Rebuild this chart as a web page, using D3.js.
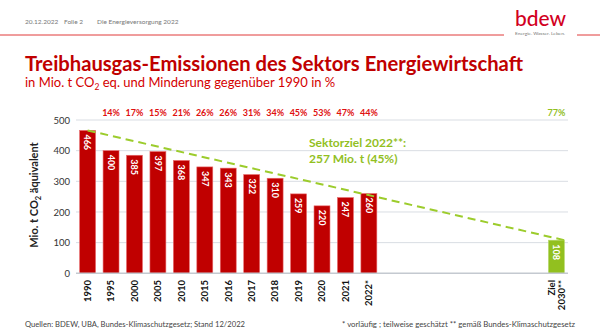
<!DOCTYPE html>
<html>
<head>
<meta charset="utf-8">
<script src="https://cdn.jsdelivr.net/npm/d3@7"></script>
<style>
  html, body { margin: 0; padding: 0; background: #fff; }
  svg { display: block; font-family: Lato, "Open Sans", sans-serif; }
</style>
</head>
<body>
<svg id="chart" width="600" height="336"></svg>
<script>
// Emissionen Energiewirtschaft, Mio. t CO2-Äquivalent
const years = ["1990", "1995", "2000", "2005", "2010", "2015", "2016", "2017", "2018", "2019", "2020", "2021", "2022*"];
const emissions = [466, 400, 385, 397, 368, 347, 343, 322, 310, 259, 220, 247, 260];
// Minderung gegenüber 1990 in %
const reductions = [null, 14, 17, 15, 21, 26, 26, 31, 34, 45, 53, 47, 44];
// Zielwert 2030
const targetLabel = ["Ziel", "2030**"];
const targetValue = 108;
const targetReduction = 77;
// Sektorziel 2022
const sectorGoal2022 = 257;
const sectorGoalPct = 45;
const yTicks = [0, 100, 200, 300, 400, 500];

const RED = "#c00000";
const GREEN = "#92c01f";
const svg = d3.select("#chart");

// --- Kopfzeile ---
const head = svg.append("g").attr("fill", "#777").attr("font-size", 6.5);
head.append("text").attr("x", 25).attr("y", 24).text("20.12.2022");
head.append("text").attr("x", 64).attr("y", 24).text("Folie 2");
head.append("text").attr("x", 97).attr("y", 24).text("Die Energieversorgung 2022");

svg.append("line").attr("x1", 0).attr("x2", 504).attr("y1", 35).attr("y2", 35)
  .attr("stroke", "#e03a3a").attr("stroke-width", 1);
svg.append("line").attr("x1", 577).attr("x2", 600).attr("y1", 35).attr("y2", 35)
  .attr("stroke", "#e03a3a").attr("stroke-width", 1);

// Logo
svg.append("text").attr("x", 515).attr("y", 26).attr("fill", "#d2001e")
  .attr("font-size", 22).attr("font-weight", 500)
  .attr("textLength", 51).attr("lengthAdjust", "spacingAndGlyphs")
  .text("bdew");
svg.append("text").attr("x", 515).attr("y", 34.5).attr("fill", "#777")
  .attr("font-size", 4.6).attr("textLength", 50).attr("lengthAdjust", "spacingAndGlyphs")
  .text("Energie. Wasser. Leben.");

// --- Titel ---
svg.append("text").attr("x", 25).attr("y", 71).attr("fill", RED)
  .attr("font-size", 21).attr("font-weight", "bold")
  .attr("textLength", 498).attr("lengthAdjust", "spacingAndGlyphs")
  .text("Treibhausgas-Emissionen des Sektors Energiewirtschaft");

const sub = svg.append("text").attr("x", 25).attr("y", 87).attr("fill", "#d40000")
  .attr("font-size", 13);
sub.append("tspan").text("in Mio. t CO");
sub.append("tspan").attr("font-size", 8.5).attr("dy", 3).text("2");
sub.append("tspan").attr("dy", -3).text(" eq. und Minderung gegenüber 1990 in %");

// --- Skalen ---
const gapSlots = d3.range(7).map(i => "gap" + i);
const targetKey = targetLabel.join(" ");
const x = d3.scaleBand()
  .domain(years.concat(gapSlots, [targetKey]))
  .range([76, 568])
  .paddingInner(0.32)
  .paddingOuter(0.155);

const y = d3.scaleLinear().domain([0, 500]).range([273.3, 120]);

// Gitternetz
svg.append("g").selectAll("line").data(yTicks.filter(t => t > 0)).join("line")
  .attr("x1", 76).attr("x2", 568)
  .attr("y1", d => y(d)).attr("y2", d => y(d))
  .attr("stroke", "#d9dde3").attr("stroke-width", 1);

// y-Achse
const yAxis = svg.append("g").attr("transform", "translate(70,0)")
  .call(d3.axisLeft(y).tickValues(yTicks).tickSize(0).tickPadding(0));
yAxis.select(".domain").remove();
yAxis.selectAll("text").attr("font-size", 9.5).attr("fill", "#333")
  .attr("font-family", "Lato, sans-serif");

const yTitle = svg.append("text")
  .attr("transform", "translate(38,195) rotate(-90)")
  .attr("text-anchor", "middle").attr("font-size", 11).attr("font-weight", "bold")
  .attr("fill", "#222");
yTitle.append("tspan").text("Mio. t CO");
yTitle.append("tspan").attr("font-size", 7.5).attr("dy", 2.5).text("2");
yTitle.append("tspan").attr("dy", -2.5).text(" äquivalent");

// --- Balken ---
const bars = years.map((yr, i) => ({ key: yr, value: emissions[i], pct: reductions[i], color: RED, pctColor: "#e01010" }));
bars.push({ key: targetKey, value: targetValue, pct: targetReduction, color: GREEN, pctColor: GREEN });

svg.append("g").selectAll("rect").data(bars).join("rect")
  .attr("x", d => x(d.key))
  .attr("y", d => y(d.value))
  .attr("width", x.bandwidth())
  .attr("height", d => y(0) - y(d.value))
  .attr("fill", d => d.color)
  .attr("stroke", d => d.color === RED ? "#e8696b" : "#b5d86a")
  .attr("stroke-width", 0.6);

// Basislinie
svg.append("line").attr("x1", 76).attr("x2", 568)
  .attr("y1", y(0)).attr("y2", y(0))
  .attr("stroke", "#c4c9d0").attr("stroke-width", 1.5);

// Werte in den Balken
svg.append("g").selectAll("text").data(bars).join("text")
  .attr("transform", d => `translate(${x(d.key) + x.bandwidth() / 2},${y(d.value) + 4}) rotate(90)`)
  .attr("dy", "0.35em")
  .attr("fill", "#fff").attr("font-size", 9).attr("font-weight", "bold")
  .text(d => d.value);

// Minderung in %
svg.append("g").selectAll("text").data(bars.filter(d => d.pct != null)).join("text")
  .attr("x", d => x(d.key) + x.bandwidth() / 2)
  .attr("y", 116)
  .attr("text-anchor", "middle")
  .attr("fill", d => d.pctColor).attr("font-size", 9).attr("font-weight", "bold")
  .text(d => d.pct + "%");

// x-Beschriftung
svg.append("g").selectAll("text").data(years).join("text")
  .attr("transform", d => `translate(${x(d) + x.bandwidth() / 2},280) rotate(-90)`)
  .attr("text-anchor", "end").attr("dy", "0.35em")
  .attr("fill", "#111").attr("font-size", 9.5).attr("font-weight", "bold")
  .text(d => d);

const zl = svg.append("text")
  .attr("transform", `translate(${x(targetKey) + x.bandwidth() / 2 - 4.5},280) rotate(-90)`)
  .attr("text-anchor", "end").attr("dy", "0.35em")
  .attr("fill", "#111").attr("font-size", 9.5).attr("font-weight", "bold");
targetLabel.forEach((t, i) => {
  zl.append("tspan").attr("x", 0).attr("dy", i === 0 ? "0.35em" : "1.05em").text(t);
});

// Zielpfad 1990 -> 2030
svg.append("line")
  .attr("x1", x("1990") + x.bandwidth() / 2)
  .attr("y1", y(emissions[0]))
  .attr("x2", x(targetKey) + x.bandwidth())
  .attr("y2", y(targetValue))
  .attr("stroke", "#9ccc2c").attr("stroke-width", 2)
  .attr("stroke-dasharray", "8,5");

// Sektorziel-Beschriftung
const goal = svg.append("g").attr("fill", GREEN).attr("font-size", 12).attr("font-weight", "bold");
goal.append("text").attr("x", 309).attr("y", 147).text("Sektorziel 2022**:");
goal.append("text").attr("x", 309).attr("y", 163).text(`${sectorGoal2022} Mio. t (${sectorGoalPct}%)`);

// --- Fußzeile ---
svg.append("text").attr("x", 25).attr("y", 326.5).attr("fill", "#444").attr("font-size", 7.5)
  .attr("textLength", 220).attr("lengthAdjust", "spacingAndGlyphs")
  .text("Quellen: BDEW, UBA, Bundes-Klimaschutzgesetz; Stand 12/2022");
svg.append("text").attr("x", 342).attr("y", 326.5)
  .attr("fill", "#444").attr("font-size", 7.5)
  .attr("textLength", 233).attr("lengthAdjust", "spacingAndGlyphs")
  .text("* vorläufig ; teilweise geschätzt ** gemäß Bundes-Klimaschutzgesetz");
</script>
</body>
</html>
